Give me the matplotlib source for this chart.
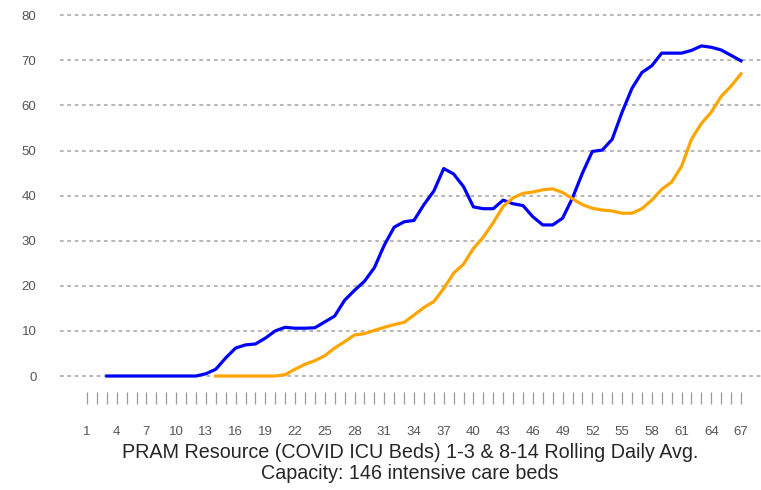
import numpy as np
import matplotlib
matplotlib.use('Agg')
import matplotlib.pyplot as plt

# --- data, doc tu hinh (ngay 1..67) ---
DAYS = list(range(1, 68))
nan = np.nan
BLUE = [nan, nan, 0, 0, 0, 0, 0, 0, 0, 0,
        0, 0, 0.5, 1.5, 4, 6.2, 6.9, 7.1, 8.4, 10,
        10.8, 10.6, 10.6, 10.7, 12, 13.3, 16.8, 19, 21, 24,
        29, 33, 34.2, 34.5, 38, 41, 46, 44.8, 42, 37.5,
        37.1, 37.1, 39, 38.2, 37.8, 35.3, 33.5, 33.5, 35, 39.5,
        45, 49.8, 50.1, 52.5, 58.5, 63.8, 67.3, 68.8, 71.6, 71.6,
        71.6, 72.2, 73.2, 72.9, 72.3, 71.1, 69.9]
ORANGE = [nan] * 13 + [0, 0, 0, 0, 0, 0, 0,
          0.3, 1.5, 2.6, 3.4, 4.5, 6.2, 7.6, 9.1, 9.4, 10.1,
          10.8, 11.4, 11.9, 13.5, 15.2, 16.5, 19.4, 22.8, 24.8, 28.3,
          30.8, 34, 37.6, 39.5, 40.5, 40.8, 41.3, 41.5, 40.7, 39.3,
          38, 37.2, 36.8, 36.6, 36.1, 36.1, 37.1, 39, 41.4, 43,
          46.5, 52.5, 56, 58.5, 62, 64.3, 67]
YTICKS = [0, 10, 20, 30, 40, 50, 60, 70, 80]
XLABELS = [str(d) if (d - 1) % 3 == 0 else '' for d in DAYS]
TITLE = "PRAM Resource (COVID ICU Beds) 1-3 & 8-14 Rolling Daily Avg.\nCapacity: 146 intensive care beds"

plt.rcParams['font.family'] = ['Liberation Sans', 'DejaVu Sans']

W, H = 761, 490
fig = plt.figure(figsize=(W / 100, H / 100), dpi=100)
# truc: trai px 60, phai px 761, tren px 15 (=80), duoi px 391.7
ax = fig.add_axes([60 / W, 1 - 391.7 / H, 1 - 60 / W, (391.7 - 13) / H])

ax.plot(DAYS, BLUE, color='#0000FF', lw=2.3, solid_joinstyle='round', zorder=3)
ax.plot(DAYS, ORANGE, color='#FFA500', lw=2.3, solid_joinstyle='round', zorder=3)

ax.set_xlim(-1.72, 69.02)
ax.set_ylim(-3.48, 80.5)

for s in ax.spines.values():
    s.set_visible(False)

ax.set_yticks(YTICKS)
ax.set_yticklabels([str(v) for v in YTICKS])
ax.tick_params(axis='y', length=0, pad=17, labelsize=9.5, labelcolor='#555555')
ax.yaxis.grid(True, color='#aaaaaa', ls=(0, (2.2, 2.2)), lw=1.2)

ax.set_xticks(DAYS)
ax.set_xticklabels(XLABELS)
ax.tick_params(axis='x', direction='out', length=8.4, width=0.9, color='#999999',
               pad=16, labelsize=9.5, labelcolor='#555555')

fig.text(410 / W, 1 - 463 / H, TITLE, ha='center', va='center',
         fontsize=14.2, color='#262626', linespacing=1.1)

fig.savefig('out.png', dpi=100)
